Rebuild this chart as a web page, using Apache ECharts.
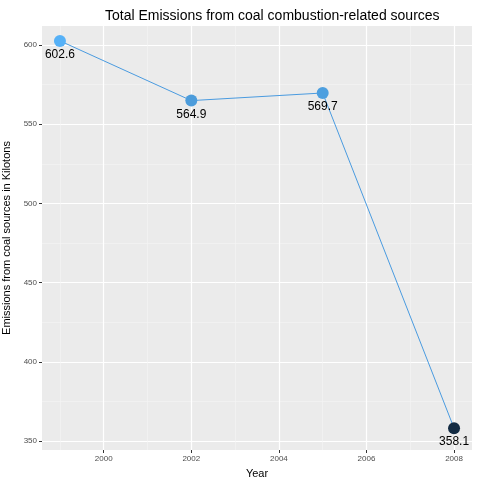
<!DOCTYPE html>
<html lang="en">
<head>
<meta charset="UTF-8">
<script src="https://cdn.jsdelivr.net/npm/echarts@6/dist/echarts.min.js"></script>
<title>Coal emissions</title>
</head>
<body style="margin:0">
<div id="main" style="width:480px;height:480px;"></div>
<script type="text/javascript">
var years = [1999, 2002, 2005, 2008];
var emissions = [602.6, 564.9, 569.7, 358.1];
var xTicks = [2000, 2002, 2004, 2006, 2008];
var xMinor = [1999, 2001, 2003, 2005, 2007];
var yTicks = [350, 400, 450, 500, 550, 600];
var yMinor = [375, 425, 475, 525, 575];

var myChart = echarts.init(document.getElementById('main'));
var xBase = {type: 'value', min: 1998.59, max: 2008.41};
var yBase = {type: 'value', min: 344.3, max: 612};
var option = {
    backgroundColor: '#fff',
    title: {
        text: 'Total Emissions from coal combustion-related sources',
        left: 100, top: 4,
        textStyle: {fontFamily: 'Liberation Sans', fontSize: 14, fontWeight: 'normal', color: '#000'}
    },
    grid: {left: 42, right: 8, top: 26, bottom: 30, backgroundColor: '#EBEBEB', show: true, borderWidth: 0,
        containLabel: false, outerBoundsMode: 'none'},
    xAxis: [
        Object.assign({}, xBase, {
            name: 'Year', nameLocation: 'middle', nameGap: 18,
            nameTextStyle: {fontFamily: 'Liberation Sans', fontSize: 11, color: '#000'},
            axisLine: {show: false},
            axisTick: {show: true, customValues: xTicks, length: 3, lineStyle: {color: '#333'}},
            axisLabel: {customValues: xTicks, fontSize: 8, color: '#4D4D4D', margin: 5, fontFamily: 'Liberation Sans',
                formatter: function (v) { return String(v); }},
            splitLine: {show: true, lineStyle: {color: '#fff', width: 1.2}}
        }),
        Object.assign({}, xBase, {
            axisLine: {show: false}, axisLabel: {show: false},
            axisTick: {show: false, customValues: xMinor},
            splitLine: {show: true, lineStyle: {color: '#F5F5F5', width: 0.6}}
        })
    ],
    yAxis: [
        Object.assign({}, yBase, {
            name: 'Emissions from coal sources in Kilotons', nameLocation: 'middle', nameGap: 30,
            nameTextStyle: {fontFamily: 'Liberation Sans', fontSize: 11, color: '#000'},
            axisLine: {show: false},
            axisTick: {show: true, customValues: yTicks, length: 3, lineStyle: {color: '#333'}},
            axisLabel: {customValues: yTicks, fontSize: 8, color: '#4D4D4D', margin: 5, fontFamily: 'Liberation Sans'},
            splitLine: {show: true, lineStyle: {color: '#fff', width: 1.2}}
        }),
        Object.assign({}, yBase, {
            axisLine: {show: false}, axisLabel: {show: false},
            axisTick: {show: false, customValues: yMinor},
            splitLine: {show: true, lineStyle: {color: '#F5F5F5', width: 0.6}}
        })
    ],
    visualMap: {
        show: false, min: 358.1, max: 602.6, dimension: 1, seriesIndex: 0,
        inRange: {color: ['#132B43', '#56B1F7']}
    },
    series: [{
        type: 'line',
        data: years.map(function (y, i) { return [y, emissions[i]]; }),
        symbol: 'circle', symbolSize: 12,
        lineStyle: {color: '#4A9BE0', width: 1},
        label: {
            show: true, position: 'bottom', distance: 2,
            fontSize: 12, color: '#000', fontFamily: 'Liberation Sans',
            formatter: function (p) { return p.value[1].toFixed(1); }
        },
        z: 5
    }]
};
myChart.setOption(option);
</script>
</body>
</html>
